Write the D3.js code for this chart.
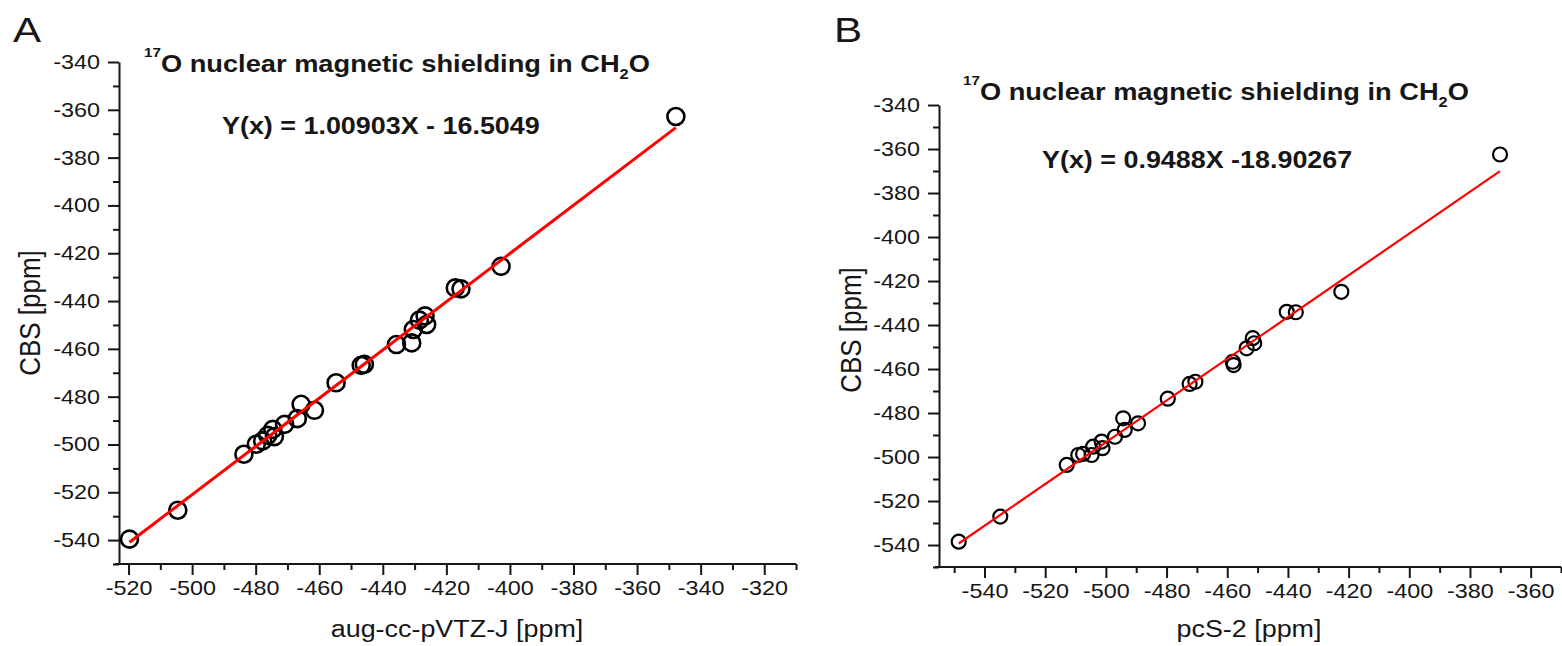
<!DOCTYPE html>
<html>
<head>
<meta charset="utf-8">
<script src="https://cdn.jsdelivr.net/npm/d3@7"></script>
<style>
  html, body { margin: 0; padding: 0; background: #fff; }
  svg { display: block; font-family: "Liberation Sans", Arial, sans-serif; }
</style>
</head>
<body>
<svg id="chart" width="1562" height="646"></svg>
<script>
// ---------- DATA ----------
// Panel A: aug-cc-pVTZ-J vs CBS
const augX = [-519.7, -504.5, -483.7, -479.8, -477.8, -476.2, -474.6, -474.1, -470.9, -466.9, -465.7, -461.5, -454.7,
              -446.8, -445.8, -435.7, -430.9, -430.4, -428.5, -426.2, -426.7, -417.2, -415.4, -402.8, -347.8];
const augY = [-539.6, -527.5, -504.1, -499.9, -498.5, -496.2, -493.7, -496.7, -491.6, -489.2, -483.2, -485.7, -474.2,
              -466.9, -466.5, -458.2, -457.5, -451.9, -448.0, -449.8, -446.2, -434.5, -434.9, -425.5, -362.8];
// Panel B: pcS-2 vs CBS
const pcsX = [-548.5, -534.8, -512.9, -509.1, -507.5, -504.7, -504.2, -501.4, -501.1, -497.0, -494.3, -493.8, -489.4,
              -479.6, -472.4, -470.5, -458.2, -457.9, -453.6, -451.6, -451.1, -440.4, -437.4, -422.4, -370.1];
const pcsY = [-538.5, -527.1, -503.6, -499.1, -498.6, -499.1, -495.3, -493.0, -496.0, -490.8, -482.4, -487.7, -484.7,
              -473.5, -466.8, -465.8, -456.7, -458.2, -450.6, -446.0, -448.3, -434.0, -434.2, -424.9, -362.5];
// Fits
const fitA = { slope: 1.00903, intercept: -16.5049 };
const fitB = { slope: 0.9488, intercept: -18.90267 };
// Texts
const panelLetters = ["A", "B"];
const xLabels = ["aug-cc-pVTZ-J [ppm]", "pcS-2 [ppm]"];
const yLabel = "CBS [ppm]";
const eqLabels = ["Y(x) = 1.00903X - 16.5049", "Y(x) = 0.9488X -18.90267"];
// Axis domains & ticks
const xDomA = [-523, -310], xDomB = [-555, -350];
const yDom = [-550, -340];
const xTicksA = d3.range(-520, -319, 20), xMinorA = d3.range(-510, -309, 20);
const xTicksB = d3.range(-540, -359, 20), xMinorB = d3.range(-550, -349, 20);
const yTicks = d3.range(-540, -339, 20), yMinor = d3.range(-550, -349, 20);

// ---------- DRAW ----------
const svg = d3.select("#chart");
const SX = 1.17;          // horizontal stretch of the original typography
const INK = "#161616";
const fmt = d => String(d); // plain hyphen-minus like the original

function stext(parent, x, y, str, size, weight, anchor) {
  return parent.append("text")
    .attr("transform", `translate(${x},${y}) scale(${SX},1)`)
    .attr("text-anchor", anchor || "start")
    .attr("font-size", size)
    .attr("font-weight", weight || "normal")
    .attr("fill", INK)
    .text(str);
}

function panel(cfg) {
  const x = d3.scaleLinear().domain(cfg.xDom).range([cfg.left, cfg.right]);
  const y = d3.scaleLinear().domain(yDom).range([cfg.bottom, cfg.top]);
  const g = svg.append("g");

  // minor ticks
  g.append("g").attr("transform", `translate(0,${cfg.bottom})`)
    .call(d3.axisBottom(x).tickValues(cfg.xMinor).tickSize(6).tickFormat(""))
    .call(a => a.select(".domain").remove());
  g.append("g").attr("transform", `translate(${cfg.left},0)`)
    .call(d3.axisLeft(y).tickValues(yMinor).tickSize(6).tickFormat(""))
    .call(a => a.select(".domain").remove());

  // major axes
  const xa = g.append("g").attr("transform", `translate(0,${cfg.bottom})`)
    .call(d3.axisBottom(x).tickValues(cfg.xTicks).tickSize(11).tickSizeOuter(0).tickPadding(6).tickFormat(fmt));
  const ya = g.append("g").attr("transform", `translate(${cfg.left},0)`)
    .call(d3.axisLeft(y).tickValues(yTicks).tickSize(11).tickSizeOuter(0).tickPadding(8).tickFormat(fmt));

  [xa, ya].forEach(a => {
    a.select(".domain").attr("stroke", INK).attr("stroke-width", 2);
    a.selectAll("text").attr("font-size", 20).attr("fill", INK)
      .attr("font-family", "Liberation Sans, Arial, sans-serif");
  });
  g.selectAll(".tick line").attr("stroke", INK).attr("stroke-width", 2);
  xa.selectAll("text").attr("dy", "0.71em").attr("transform", `scale(${SX},1)`);
  ya.selectAll("text").attr("transform", `scale(${SX},1)`).attr("x", -19 / SX);
  // x axis line overhangs slightly to the left like the original
  xa.select(".domain").attr("d", `M${cfg.left - 4},0H${cfg.right}`);

  // points
  g.append("g").selectAll("circle")
    .data(cfg.xs.map((v, i) => [v, cfg.ys[i]]))
    .join("circle")
    .attr("cx", d => x(d[0])).attr("cy", d => y(d[1]))
    .attr("r", cfg.r).attr("fill", "none")
    .attr("stroke", "#000").attr("stroke-width", cfg.sw);

  // fit line
  const [x0, x1] = d3.extent(cfg.xs);
  g.append("line")
    .attr("x1", x(x0)).attr("y1", y(cfg.fit.slope * x0 + cfg.fit.intercept))
    .attr("x2", x(x1)).attr("y2", y(cfg.fit.slope * x1 + cfg.fit.intercept))
    .attr("stroke", "#ff0000").attr("stroke-width", cfg.lw);

  // panel letter
  stext(svg, cfg.letterX, 42, cfg.letter, 36, "normal");

  // title with super/subscripts
  const t = svg.append("text")
    .attr("transform", `translate(${cfg.titleX},${cfg.titleY}) scale(${SX},1)`)
    .attr("font-weight", "bold").attr("fill", INK);
  t.append("tspan").attr("font-size", 13).attr("dy", -15).text("17");
  t.append("tspan").attr("font-size", 23.3).attr("dy", 15).text("O nuclear magnetic shielding in CH");
  t.append("tspan").attr("font-size", 14).attr("dy", 7).text("2");
  t.append("tspan").attr("font-size", 23.3).attr("dy", -7).text("O");

  // equation
  stext(svg, cfg.eqX, cfg.eqY, cfg.eq, 23, "bold");

  // axis labels
  stext(svg, cfg.xLabelX, 637, cfg.xLabel, 23, "normal", "middle");
  svg.append("text")
    .attr("transform", `translate(${cfg.yLabelX},${cfg.yLabelY}) scale(${SX},1) rotate(-90)`)
    .attr("text-anchor", "middle").attr("font-size", 26).attr("fill", INK)
    .text(yLabel);
}

panel({
  letter: panelLetters[0], letterX: 13,
  xDom: xDomA, xTicks: xTicksA, xMinor: xMinorA,
  left: 119, right: 796, top: 62, bottom: 564,
  xs: augX, ys: augY, fit: fitA, r: 8.5, sw: 2.6, lw: 3,
  titleX: 144, titleY: 72, eqX: 222, eqY: 134, eq: eqLabels[0],
  xLabel: xLabels[0], xLabelX: 457, yLabelX: 40, yLabelY: 313
});

panel({
  letter: panelLetters[1], letterX: 834,
  xDom: xDomB, xTicks: xTicksB, xMinor: xMinorB,
  left: 939, right: 1561, top: 105, bottom: 567,
  xs: pcsX, ys: pcsY, fit: fitB, r: 7, sw: 2.2, lw: 2.2,
  titleX: 963, titleY: 100, eqX: 1042, eqY: 168, eq: eqLabels[1],
  xLabel: xLabels[1], xLabelX: 1249, yLabelX: 861, yLabelY: 330
});
</script>
</body>
</html>
